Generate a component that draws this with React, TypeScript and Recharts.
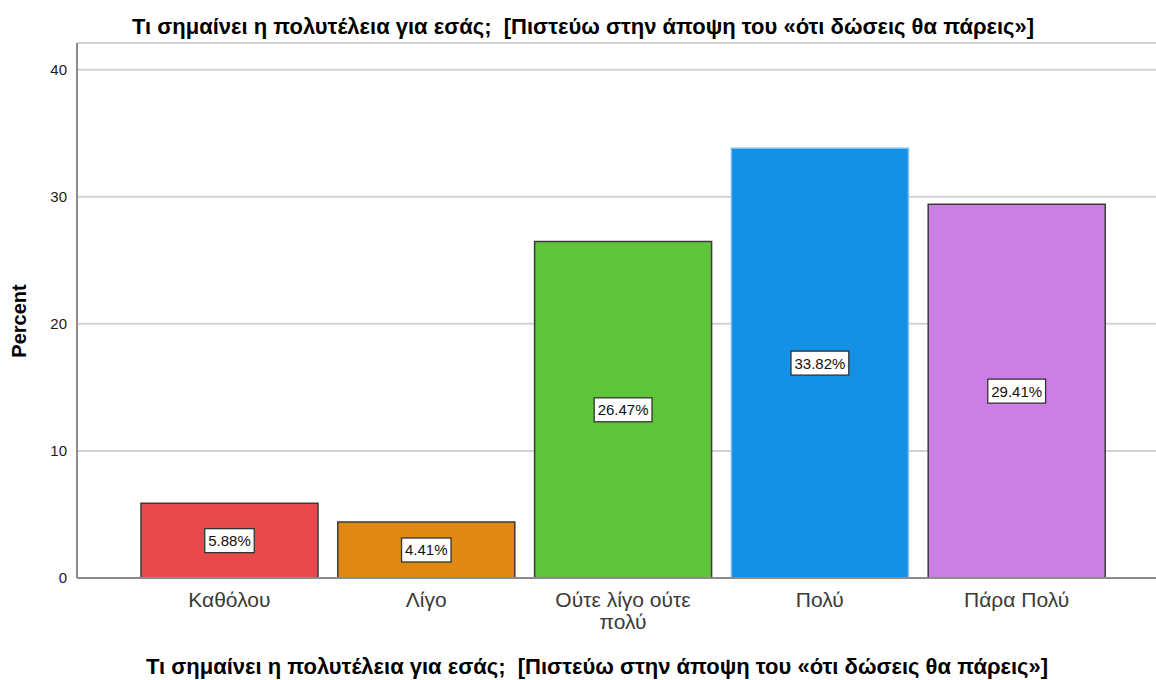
import { Bar, BarChart, CartesianGrid, Cell, LabelList, XAxis, YAxis } from "recharts";

const categories = ["Καθόλου", "Λίγο", "Ούτε λίγο ούτε πολύ", "Πολύ", "Πάρα Πολύ"];
const percents = [5.88, 4.41, 26.47, 33.82, 29.41];
const barColours = ["#E8494C", "#E08912", "#5EC43A", "#1490E6", "#CB7FE5"];
const barStrokes = ["#3a3a3a", "#3a3a3a", "#3a3a3a", "#7cc0f0", "#3a3a3a"];
const yTicks = [0, 10, 20, 30, 40];

const title = "Τι σημαίνει η πολυτέλεια για εσάς;  [Πιστεύω στην άποψη του «ότι δώσεις θα πάρεις»]";

const data = categories.map((name, i) => ({ name, percent: percents[i] }));

const font = "'Liberation Sans', Arial, sans-serif";

let ctx: CanvasRenderingContext2D | null = null;
function measure(s: string) {
  if (!ctx) ctx = document.createElement("canvas").getContext("2d");
  if (!ctx) return s.length * 10;
  ctx.font = `21px ${font}`;
  return ctx.measureText(s).width;
}

function wrap(label: string, maxWidth: number) {
  const lines: string[] = [];
  let cur = "";
  for (const word of label.split(" ")) {
    const next = cur ? `${cur} ${word}` : word;
    if (cur && measure(next) > maxWidth) {
      lines.push(cur);
      cur = word;
    } else {
      cur = next;
    }
  }
  lines.push(cur);
  return lines;
}

function CategoryTick({ x, y, payload }: any) {
  const lines = wrap(String(payload.value), 160);
  return (
    <text x={x} y={y + 21} textAnchor="middle" fill="#3a3a3a" fontSize={21} fontFamily={font}>
      {lines.map((line, i) => (
        <tspan key={i} x={x} dy={i === 0 ? 0 : 22}>
          {line}
        </tspan>
      ))}
    </text>
  );
}

function ValueLabel({ x, y, width, height, value }: any) {
  const text = `${Number(value).toFixed(2)}%`;
  const w = text.length * 8.3 + 8;
  const h = 24;
  const cx = x + width / 2;
  const cy = y + height / 2;
  return (
    <g>
      <rect x={cx - w / 2} y={cy - h / 2} width={w} height={h} fill="#fff" stroke="#333" strokeWidth={1.3} />
      <text x={cx} y={cy + 5.5} textAnchor="middle" fontSize={15} fontFamily={font} fill="#111">
        {text}
      </text>
    </g>
  );
}

export default function App() {
  return (
    <div style={{ position: "absolute", left: 0, top: 0, width: 1156, height: 680, background: "#fff", fontFamily: font }}>
      <div
        style={{
          position: "absolute",
          top: 14,
          left: 0,
          width: 1166,
          textAlign: "center",
          fontWeight: "bold",
          fontSize: 22,
          whiteSpace: "pre",
          color: "#000",
        }}
      >
        {title}
      </div>
      <div
        style={{
          position: "absolute",
          top: 654,
          left: 0,
          width: 1194,
          textAlign: "center",
          fontWeight: "bold",
          fontSize: 22,
          whiteSpace: "pre",
          color: "#000",
        }}
      >
        {title}
      </div>
      <div
        style={{
          position: "absolute",
          left: 19,
          top: 321,
          transform: "translate(-50%, -50%) rotate(-90deg)",
          fontWeight: "bold",
          fontSize: 20,
          color: "#000",
        }}
      >
        Percent
      </div>
      <BarChart
        width={1156}
        height={680}
        data={data}
        margin={{ top: 43, right: 0, bottom: 0, left: 0 }}
        barCategoryGap={10}
      >
        <CartesianGrid vertical={false} stroke="#d2d2d2" strokeWidth={2} />
        <XAxis
          dataKey="name"
          type="category"
          height={102}
          padding={{ left: 54, right: 41 }}
          axisLine={{ stroke: "#8c8c8c", strokeWidth: 2 }}
          tickLine={false}
          interval={0}
          tick={<CategoryTick />}
        />
        <YAxis
          width={77}
          domain={[0, 42.1]}
          ticks={yTicks}
          axisLine={{ stroke: "#8c8c8c", strokeWidth: 2 }}
          tickLine={false}
          tick={{ fontSize: 15, fill: "#1a1a1a", fontFamily: font }}
          tickMargin={4}
        />
        <Bar dataKey="percent" isAnimationActive={false} strokeWidth={1.5}>
          {data.map((_, i) => (
            <Cell key={i} fill={barColours[i]} stroke={barStrokes[i]} />
          ))}
          <LabelList dataKey="percent" content={<ValueLabel />} />
        </Bar>
      </BarChart>
    </div>
  );
}
